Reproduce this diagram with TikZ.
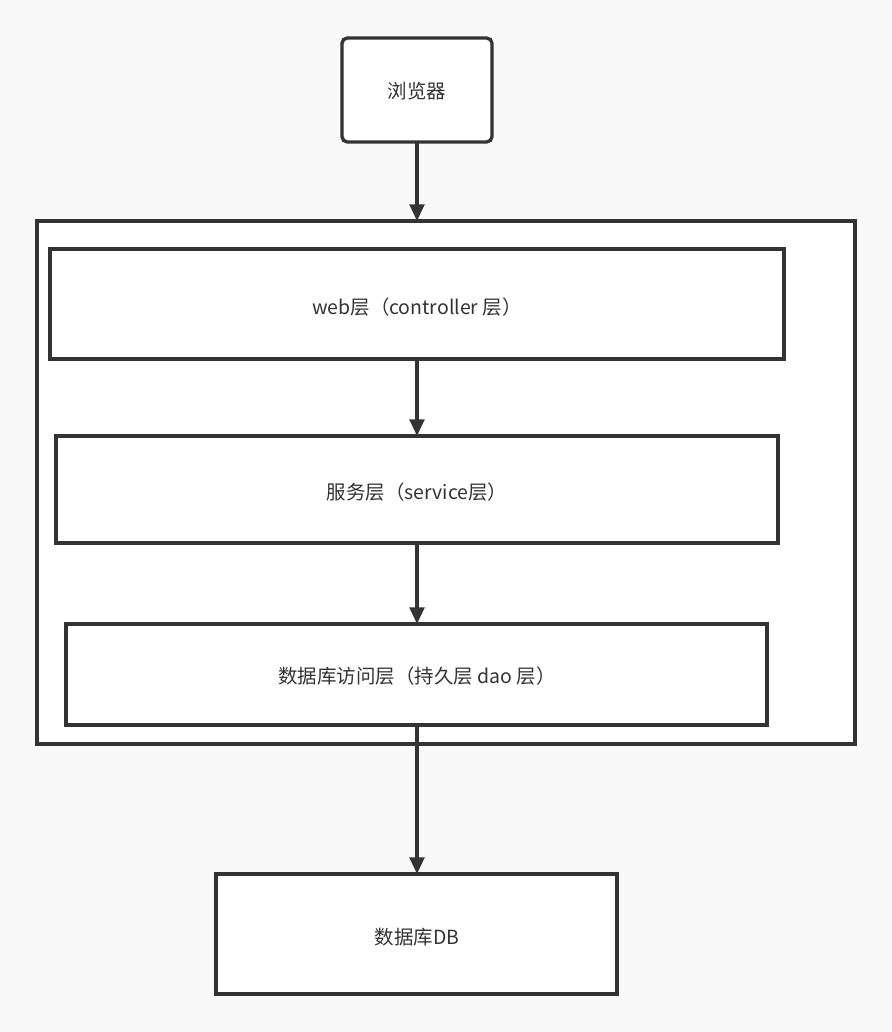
\documentclass[tikz,border=0pt]{standalone}
\usepackage{fontspec}
\setmainfont{Noto Sans CJK SC}
\usetikzlibrary{arrows.meta}
\definecolor{bg}{HTML}{F9F9F9}
\definecolor{ink}{HTML}{333333}
\tikzset{
  px/.style={x=0.75pt,y=-0.75pt},
  box/.style={draw=ink,fill=white,line width=2.5pt},
  lbl/.style={text=ink,font=\fontsize{14.6pt}{17pt}\selectfont},
  conn/.style={draw=ink,line width=2.5pt,-{Triangle[length=12.5pt,width=11pt]}}
}
\begin{document}
\begin{tikzpicture}[px]
\fill[bg] (0,0) rectangle (892,1032);
\useasboundingbox (0,0) rectangle (892,1032);
% container
\draw[box] (37,221) rectangle (855,744);
\coordinate (ctop) at (417,221);
% boxes
\draw[box,rounded corners=4pt] (342,38) rectangle (492,142);
\node[lbl] (browser) at (417,91) {浏览器};
\coordinate (browserb) at (417,142);
\draw[box] (50,249) rectangle (784,359);
\node[lbl] (web) at (417,307) {web层（controller 层）};
\coordinate (webt) at (417,249);
\coordinate (webb) at (417,359);
\draw[box] (56,436) rectangle (778,543);
\node[lbl] (svc) at (417,492) {服务层（service层）};
\coordinate (svct) at (417,436);
\coordinate (svcb) at (417,543);
\draw[box] (66,624) rectangle (767,725);
\node[lbl] (dao) at (417,676) {数据库访问层（持久层 dao 层）};
\coordinate (daot) at (417,624);
\coordinate (daob) at (417,725);
\draw[box] (216,874) rectangle (617,994);
\node[lbl] (db) at (417,937) {数据库DB};
\coordinate (dbt) at (417,874);
% connectors
\draw[conn] (browserb) -- (ctop);
\draw[conn] (webb) -- (svct);
\draw[conn] (svcb) -- (daot);
\draw[conn] (daob) -- (dbt);
\end{tikzpicture}
\end{document}
